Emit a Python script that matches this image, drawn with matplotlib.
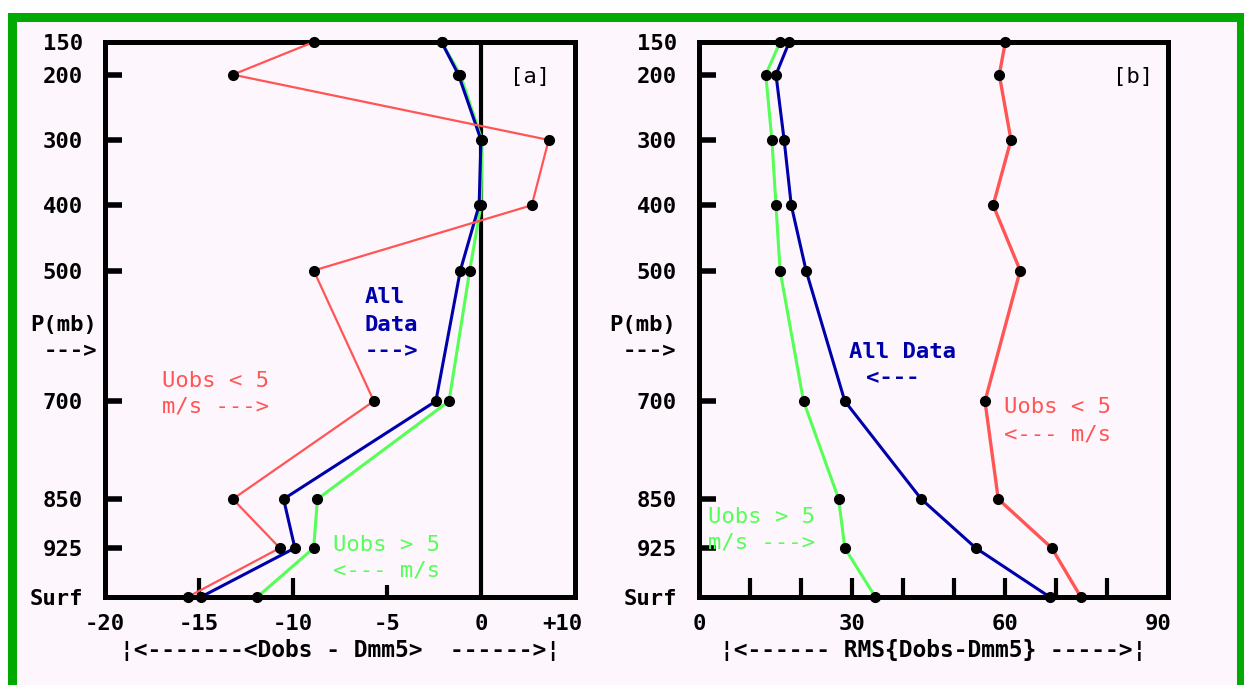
import matplotlib
matplotlib.use("Agg")
import matplotlib.pyplot as plt
from matplotlib.patches import Rectangle

# pressure levels (mb), "Surf" taken as 1000 mb
levels = [150, 200, 300, 400, 500, 700, 850, 925, 1000]
level_labels = ["150", "200", "300", "400", "500", "700", "850", "925", "Surf"]
tick_levels = [200, 300, 400, 500, 700, 850, 925]

# panel [a]: mean (Dobs - Dmm5)
bias_all = [-2.1, -1.2, 0.0, -0.1, -1.1, -2.4, -10.5, -9.9, -14.9]
bias_slow = [-8.9, -13.2, 3.6, 2.7, -8.9, -5.7, -13.2, -10.7, -15.6]
bias_fast = [-2.1, -1.1, 0.05, 0.0, -0.6, -1.7, -8.7, -8.9, -11.9]

# panel [b]: RMS(Dobs - Dmm5)
rms_all = [17.7, 15.1, 16.7, 18.1, 21.0, 28.6, 43.6, 54.3, 68.8]
rms_slow = [60.1, 58.9, 61.2, 57.7, 63.0, 56.1, 58.7, 69.2, 74.9]
rms_fast = [15.9, 13.1, 14.3, 15.1, 15.9, 20.5, 27.4, 28.6, 34.6]

xticks_a = [-20, -15, -10, -5, 0, 4.3]
xticklabels_a = ["-20", "-15", "-10", "-5", "0", "+10"]
xticks_b = [0, 30, 60, 90]
xticklabels_b = ["0", "30", "60", "90"]

RED = "#ff5555"
GREEN = "#55ff55"
BLUE = "#0000aa"
FRAME = "#00aa00"
BG = "#fdf7fd"
MONO = "DejaVu Sans Mono"

W, H = 1244, 685
fig = plt.figure(figsize=(W / 100, H / 100), dpi=100)
fig.patch.set_facecolor("white")

# green frame around the picture (bottom edge is cut off)
fig.patches.append(Rectangle((11.5 / W, -10 / H), 1229 / W, (H - 16.5 + 10) / H,
                             transform=fig.transFigure, facecolor=BG,
                             edgecolor=FRAME, lw=6.5, zorder=-10))


def ftext(x, y, s, **kw):
    # place text by pixel position in the picture
    kw.setdefault("family", MONO)
    kw.setdefault("fontsize", 16)
    kw.setdefault("va", "center")
    fig.text(x / W, 1 - y / H, s, **kw)


def setup(ax, xlim, xticks, xticklabels, minor_x, xlabel):
    ax.set_facecolor("none")
    ax.set_xlim(*xlim)
    ax.set_ylim(1000, 150)
    for sp in ax.spines.values():
        sp.set_linewidth(3.6)
    # tick marks sit at the same places as the labels, keep both
    ax.xaxis.remove_overlapping_locs = False
    ax.yaxis.remove_overlapping_locs = False
    ax.set_yticks(levels)
    ax.set_yticklabels(level_labels)
    ax.set_yticks(tick_levels, minor=True)
    ax.set_xticks(xticks)
    ax.set_xticklabels(xticklabels)
    ax.set_xticks(minor_x, minor=True)
    ax.tick_params(axis="both", which="major", length=0, labelsize=16)
    ax.tick_params(axis="y", which="major", pad=16)
    ax.tick_params(axis="x", which="major", pad=12)
    ax.tick_params(axis="y", which="minor", direction="in", length=12, width=4)
    ax.tick_params(axis="x", which="minor", direction="in", length=14, width=3)
    for lab in ax.get_xticklabels() + ax.get_yticklabels():
        lab.set_family(MONO)
        lab.set_fontweight("bold")
    ax.set_xlabel(xlabel, family=MONO, fontweight="bold", fontsize=16.5, labelpad=4)


def profiles(ax, fast, allv, slow, lw_slow):
    ax.plot(fast, levels, color=GREEN, lw=2.2, zorder=3)
    ax.plot(allv, levels, color=BLUE, lw=2.2, zorder=4)
    ax.plot(slow, levels, color=RED, lw=lw_slow, zorder=5)
    for vals in (fast, allv, slow):
        ax.plot(vals, levels, ls="none", marker="o", ms=7, color="black",
                zorder=6, clip_on=False)


# ---- panel [a]
ax1 = fig.add_axes([105 / W, (H - 597) / H, 470 / W, 555 / H])
setup(ax1, (-20, 5), xticks_a, xticklabels_a, [-15, -10, -5],
      "\u00a6<-------<Dobs - Dmm5>  ------>\u00a6")
ax1.axvline(0, color="black", lw=3, zorder=2)
minor_a = ax1.xaxis.get_minor_ticks()
if len(minor_a) >= 3:
    minor_a[2].tick1line.set_markersize(9)  # the -5 mark is shorter
profiles(ax1, bias_fast, bias_all, bias_slow, 1.6)

# ---- panel [b]
ax2 = fig.add_axes([699 / W, (H - 597) / H, 469 / W, 555 / H])
setup(ax2, (0, 92), xticks_b, xticklabels_b, [10, 20, 30, 40, 50, 60, 70, 80],
      "\u00a6<------ RMS{Dobs-Dmm5} ----->\u00a6")
profiles(ax2, rms_fast, rms_all, rms_slow, 2.4)

# annotations
ftext(530, 77, "[a]", ha="center")
ftext(1133, 77, "[b]", ha="center")
for xr in (97, 676):
    ftext(xr, 325, "P(mb)", ha="right", fontweight="bold")
    ftext(xr, 351, "--->", ha="right", fontweight="bold")

ftext(365, 297, "All", color=BLUE, fontweight="bold")
ftext(365, 325, "Data", color=BLUE, fontweight="bold")
ftext(365, 351, "--->", color=BLUE, fontweight="bold")
ftext(162, 381, "Uobs < 5", color=RED)
ftext(162, 407, "m/s --->", color=RED)
ftext(333, 545, "Uobs > 5", color=GREEN)
ftext(333, 571, "<--- m/s", color=GREEN)

ftext(849, 352, "All Data", color=BLUE, fontweight="bold")
ftext(866, 378, "<---", color=BLUE, fontweight="bold")
ftext(1004, 407, "Uobs < 5", color=RED)
ftext(1004, 434, "<--- m/s", color=RED)
ftext(708, 517, "Uobs > 5", color=GREEN)
ftext(708, 543, "m/s --->", color=GREEN)

fig.savefig("out.png", dpi=100)
